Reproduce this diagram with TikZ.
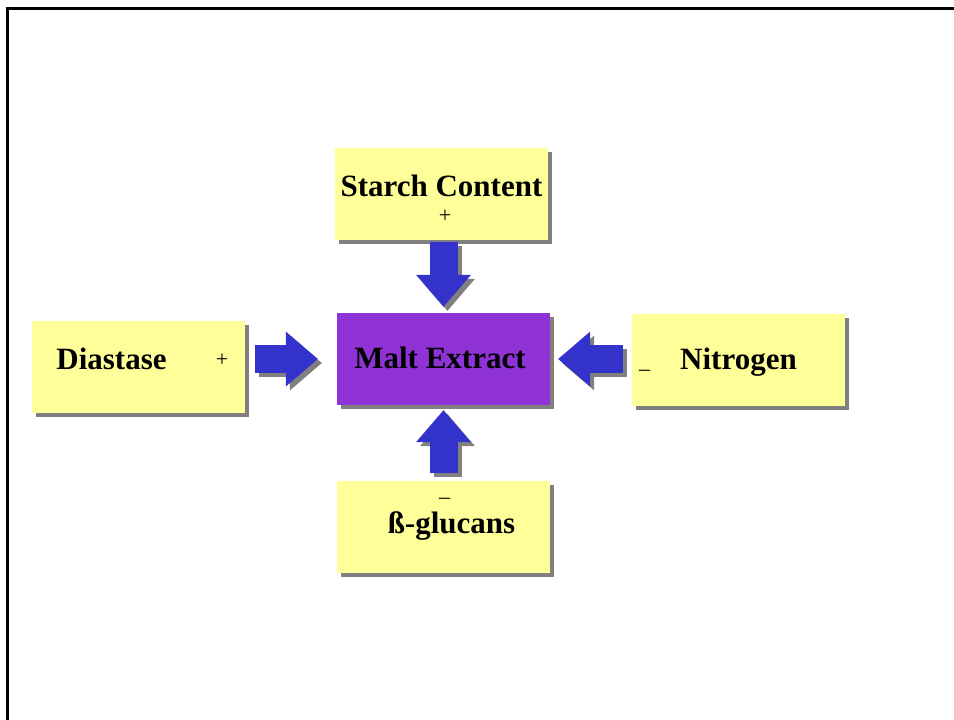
\documentclass[tikz,border=0pt]{standalone}
\usepackage{fontspec}
\setmainfont{Liberation Serif}
\usetikzlibrary{arrows.meta,shadows}
\definecolor{paleyellow}{HTML}{FFFF99}
\definecolor{maltpurple}{HTML}{9033D6}
\definecolor{arrowblue}{HTML}{3333CC}
\definecolor{shadowgray}{HTML}{808080}
\begin{document}
\begin{tikzpicture}[x=1pt, y=-1pt,
		box/.style={rectangle, fill=paleyellow, minimum width=213pt, minimum height=92pt, inner sep=0pt, text height=21pt,
			font=\bfseries\fontsize{31}{36}\selectfont, drop shadow={shadow xshift=4pt, shadow yshift=-4pt, fill=shadowgray, opacity=1}},
		sign/.style={anchor=base, inner sep=0pt, font=\fontsize{22}{26}\selectfont},
		fat/.style={line width=28pt, draw=arrowblue, -{Triangle[length=32pt, width=55pt, line width=0pt]}},
		fatshadow/.style={fat, draw=shadowgray, transform canvas={xshift=4pt, yshift=-4pt}}]
	\useasboundingbox (0,0) rectangle (954,720);
	\draw[line width=3pt] (7.5,730) -- (7.5,8.5) -- (960,8.5);
	\node[box, text depth=17pt] (starch) at (441.5,194) {Starch Content};
	\node[box, text depth=3pt, fill=maltpurple] (malt) at (443.5,359) {Malt Extract\hspace{7pt}\mbox{}};
	\node[box, text depth=17pt] (diastase) at (138.5,367) {Diastase\hspace{54pt}\mbox{}};
	\node[box, text depth=2pt] (nitrogen) at (738.5,359.5) {Nitrogen};
	\node[box, text depth=8pt] (glucans) at (443.5,526.5) {\hspace{16pt}ß-glucans};
	\node[sign] (starchsign) at (445,222) {+};
	\node[sign] (diastasesign) at (222,366) {+};
	\node[sign] (nitrogensign) at (644.5,368) {\_};
	\node[sign] (glucanssign) at (444.5,496) {\_};
	\draw[fatshadow, shorten <=2pt, shorten >=6pt] (malt.north |- starch.south) -- (malt.north);
	\draw[fatshadow, shorten <=7pt, shorten >=5pt] (malt.south |- glucans.north) -- (malt.south);
	\draw[fatshadow, shorten <=10pt, shorten >=19pt] (diastase.east |- malt.west) -- (malt.west);
	\draw[fatshadow, shorten <=9pt, shorten >=8pt] (nitrogen.west |- malt.east) -- (malt.east);
	\draw[fat, shorten <=2pt, shorten >=6pt] (malt.north |- starch.south) -- (malt.north);
	\draw[fat, shorten <=7pt, shorten >=5pt] (malt.south |- glucans.north) -- (malt.south);
	\draw[fat, shorten <=10pt, shorten >=19pt] (diastase.east |- malt.west) -- (malt.west);
	\draw[fat, shorten <=9pt, shorten >=8pt] (nitrogen.west |- malt.east) -- (malt.east);
\end{tikzpicture}
\end{document}
